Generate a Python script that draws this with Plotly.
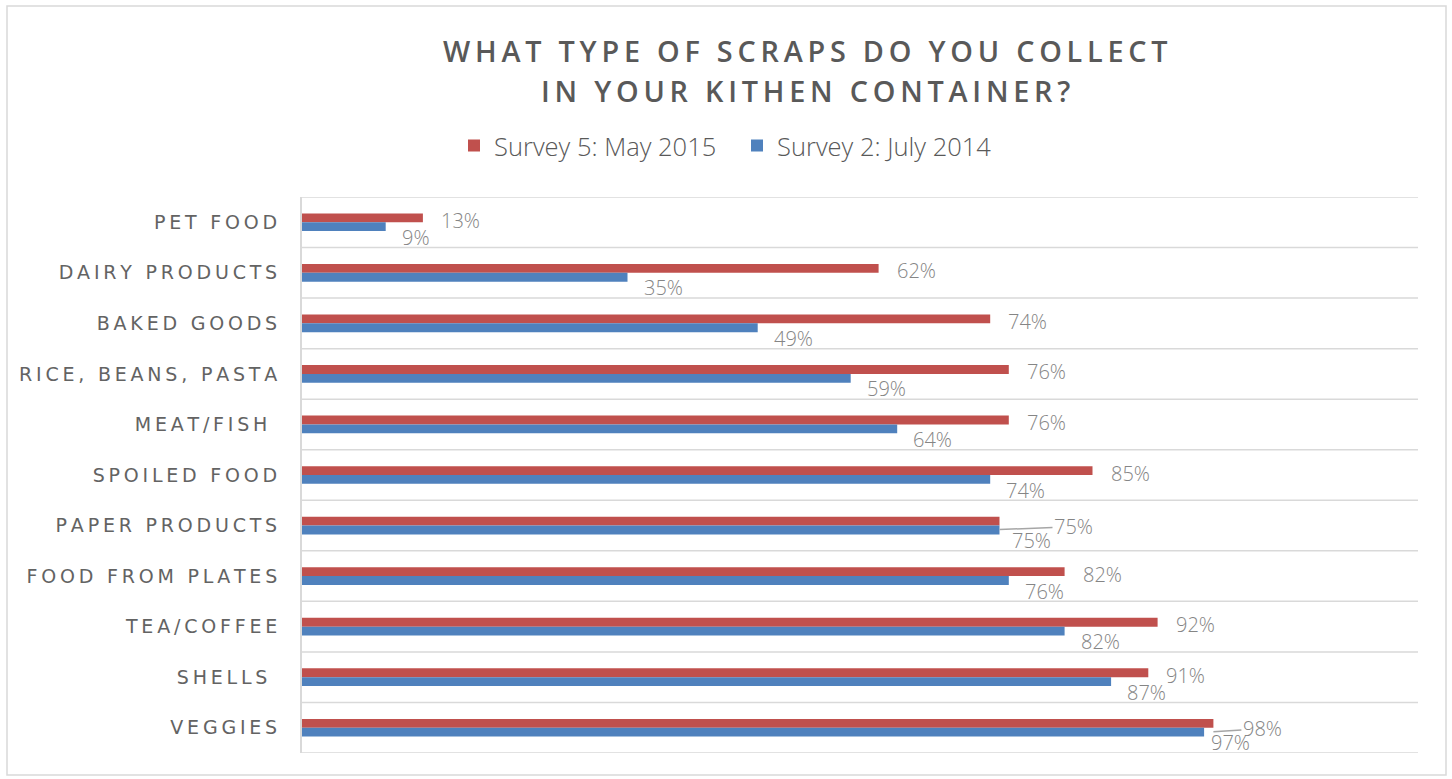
import plotly.graph_objects as go

# Survey categories, top to bottom
categories = [
    "PET FOOD", "DAIRY PRODUCTS", "BAKED GOODS", "RICE, BEANS, PASTA",
    "MEAT/FISH ", "SPOILED FOOD", "PAPER PRODUCTS", "FOOD FROM PLATES",
    "TEA/COFFEE", "SHELLS ", "VEGGIES",
]
# Share of respondents (%)
may_2015 = [13, 62, 74, 76, 76, 85, 75, 82, 92, 91, 98]
july_2014 = [9, 35, 49, 59, 64, 74, 75, 76, 82, 87, 97]

series_names = ["Survey 5: May 2015", "Survey 2: July 2014"]
title_lines = ["WHAT TYPE OF SCRAPS DO YOU COLLECT", "IN YOUR KITHEN CONTAINER?"]

RED = "#C0504D"
BLUE = "#4F81BD"
TEXT_DARK = "#595959"
TEXT_LABEL = "#858585"
GRID = "#D9D9D9"

W, H = 1452, 779
ML, MR, MT, MB = 302, 34, 197, 26
PW, PH = W - ML - MR, H - MT - MB


def px_x(x):
    return (x - ML) / PW


def px_y(y):
    return (H - MB - y) / PH


def spaced(text, gap="\u200a"):
    # widen tracking by inserting narrow spaces between letters
    out = gap.join(text)
    return out.replace(" ", "\u00a0")


fig = go.Figure()
fig.add_trace(go.Bar(
    y=categories, x=may_2015, orientation="h", name=series_names[0],
    marker=dict(color=RED, line=dict(width=0)), hoverinfo="x+y",
))
fig.add_trace(go.Bar(
    y=categories, x=july_2014, orientation="h", name=series_names[1],
    marker=dict(color=BLUE, line=dict(width=0)), hoverinfo="x+y",
))

label_font = dict(family="Open Sans", size=20, color=TEXT_LABEL, weight=300)
annotations = []

# data labels, with leader lines where a label sits away from its bar
red_leaders = {"PAPER PRODUCTS": 74, "VEGGIES": 49}
blue_shift = {"PAPER PRODUCTS": 10, "VEGGIES": 5}
for cat, v_red, v_blue in zip(categories, may_2015, july_2014):
    if cat in red_leaders:
        annotations.append(dict(
            x=v_red, y=cat, xref="x", yref="y", text=f"{v_red}%",
            showarrow=True, arrowhead=0, arrowwidth=1.5, arrowcolor="#A6A6A6",
            ax=red_leaders[cat], ay=-3, yshift=-4, standoff=0,
            font=label_font,
        ))
    else:
        annotations.append(dict(
            x=v_red, y=cat, xref="x", yref="y", text=f"{v_red}%",
            showarrow=False, xanchor="left", yanchor="middle",
            xshift=16, yshift=2, font=label_font,
        ))
    annotations.append(dict(
        x=v_blue, y=cat, xref="x", yref="y", text=f"{v_blue}%",
        showarrow=False, xanchor="left", yanchor="middle",
        xshift=blue_shift.get(cat, 14), yshift=-15, font=label_font,
    ))

# chart title, one annotation per line
title_font = dict(family="Open Sans", size=28.8, color=TEXT_DARK, weight=600)
for line, yc in zip(title_lines, [50, 90]):
    annotations.append(dict(
        x=px_x(805), y=px_y(yc), xref="paper", yref="paper",
        text=spaced(line, "\u2009"),
        showarrow=False, xanchor="center", yanchor="middle",
        font=title_font,
    ))

shapes = []
# category separators
for i in range(len(categories) + 1):
    shapes.append(dict(
        type="line", xref="paper", yref="y", x0=0, x1=1,
        y0=i - 0.5, y1=i - 0.5, line=dict(color=GRID, width=1.5), layer="below",
    ))
# outer chart border
shapes.append(dict(
    type="rect", xref="paper", yref="paper",
    x0=px_x(7), x1=px_x(1446), y0=px_y(775), y1=px_y(6),
    line=dict(color=GRID, width=1.5),
))

fig.update_layout(
    width=W, height=H,
    margin=dict(l=ML, r=MR, t=MT, b=MB, pad=0),
    paper_bgcolor="white", plot_bgcolor="white",
    barmode="group", bargap=0.65, bargroupgap=0,
    showlegend=True,
    legend=dict(
        orientation="h", x=px_x(454), y=px_y(146), xanchor="left", yanchor="middle",
        font=dict(family="Open Sans", size=25.5, color=TEXT_DARK, weight=300),
        entrywidth=238, itemwidth=30, traceorder="normal",
        bgcolor="rgba(0,0,0,0)",
    ),
    xaxis=dict(range=[0, 120], visible=False, fixedrange=True),
    yaxis=dict(
        type="category", categoryorder="array", categoryarray=categories,
        range=[len(categories) - 0.5, -0.5],
        tickmode="array", tickvals=categories,
        ticktext=[spaced(c, "\u2009") for c in categories],
        tickfont=dict(family="DejaVu Sans", size=19, color="#636363"),
        ticks="", ticklabelstandoff=19,
        showline=True, linecolor=GRID, linewidth=2,
        showgrid=False, zeroline=False, fixedrange=True,
    ),
    annotations=annotations,
    shapes=shapes,
    font=dict(family="Open Sans"),
)

fig.write_html("out.html")
